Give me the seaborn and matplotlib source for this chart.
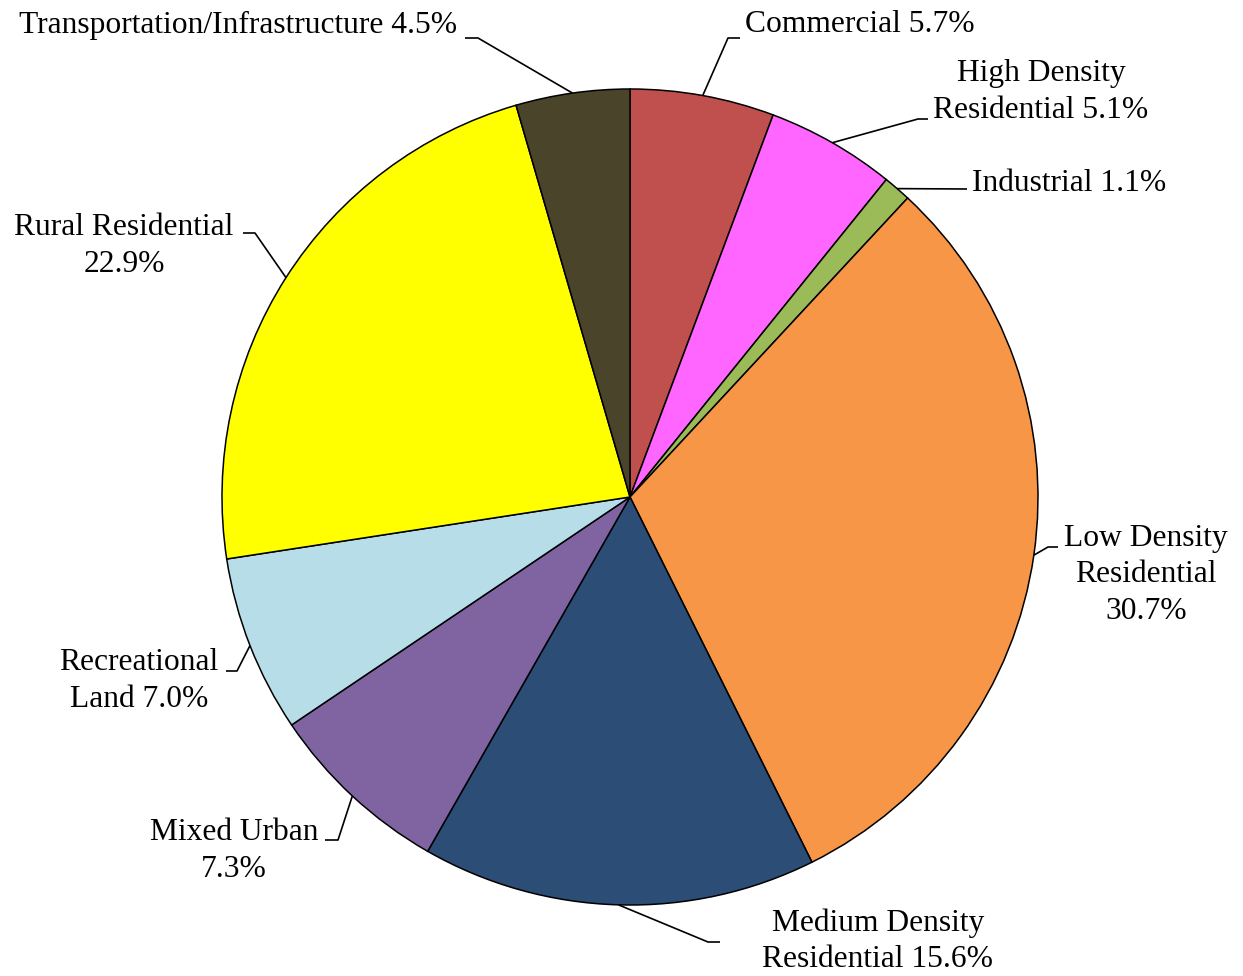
import numpy as np
import matplotlib
matplotlib.use("Agg")
import matplotlib.pyplot as plt
import seaborn as sns

sns.set_theme(style="white")
plt.rcParams['font.family'] = ['Liberation Serif', 'DejaVu Serif']

# data
categories = ["Commercial", "High Density\nResidential", "Industrial", "Low Density\nResidential",
              "Medium Density\nResidential", "Mixed Urban", "Recreational\nLand",
              "Rural Residential", "Transportation/Infrastructure"]
shares = [5.7, 5.1, 1.1, 30.7, 15.6, 7.3, 7.0, 22.9, 4.5]
colors = ["#C0504D", "#FF66FF", "#9BBB59", "#F79646", "#2C4D75",
          "#8064A2", "#B7DEE8", "#FFFF00", "#4A452A"]
label_texts = ["Commercial 5.7%", "High Density\nResidential 5.1%", "Industrial 1.1%",
               "Low Density\nResidential\n30.7%", "Medium Density\nResidential 15.6%",
               "Mixed Urban\n7.3%", "Recreational\nLand 7.0%", "Rural Residential\n22.9%",
               "Transportation/Infrastructure 4.5%"]

# layout (pixel positions in the 1243x976 picture)
W, H = 1243, 976
CX, CY, R = 630, 497, 408
text_pos = [(745, 25, 'left'), (1041, 92, 'center'), (972, 184, 'left'),
            (1146, 575, 'center'), (878, 941, 'center'), (234, 851, 'center'),
            (139, 681, 'center'), (124, 246, 'center'), (457, 25, 'right')]
elbows = [[(728, 38), (740, 38)], [(918, 119), (928, 119)], [(967, 189)],
          [(1048, 547), (1058, 547)], [(708, 942), (720, 942)], [(338, 840), (325, 840)],
          [(237, 671), (226, 671)], [(255, 233), (243, 233)], [(478, 38), (465, 38)]]


def px(x, y):
    return (x - CX) / R, (CY - y) / R


fig = plt.figure(figsize=(W / 100, H / 100), dpi=100)
ax = fig.add_axes([0, 0, 1, 1])
wedges, _ = ax.pie(shares, colors=colors, startangle=90, counterclock=False, radius=1,
                   wedgeprops=dict(edgecolor='black', linewidth=1.1))
ax.set_xlim(-CX / R, (W - CX) / R)
ax.set_ylim(-(H - CY) / R, CY / R)
ax.set_aspect('equal')
ax.axis('off')

for w, txt, (tx, ty, ha), pts in zip(wedges, label_texts, text_pos, elbows):
    mid = np.deg2rad((w.theta1 + w.theta2) / 2)
    xs = [np.cos(mid)]
    ys = [np.sin(mid)]
    for (ex, ey) in pts:
        dx, dy = px(ex, ey)
        xs.append(dx)
        ys.append(dy)
    ax.plot(xs, ys, color='black', lw=1.2, solid_capstyle='butt')
    x0, y0 = px(tx, ty)
    ax.text(x0, y0, txt, ha=ha, va='center', multialignment='center',
            fontsize=22.7, linespacing=1.33, color='black')

fig.savefig("out.png", dpi=100)
